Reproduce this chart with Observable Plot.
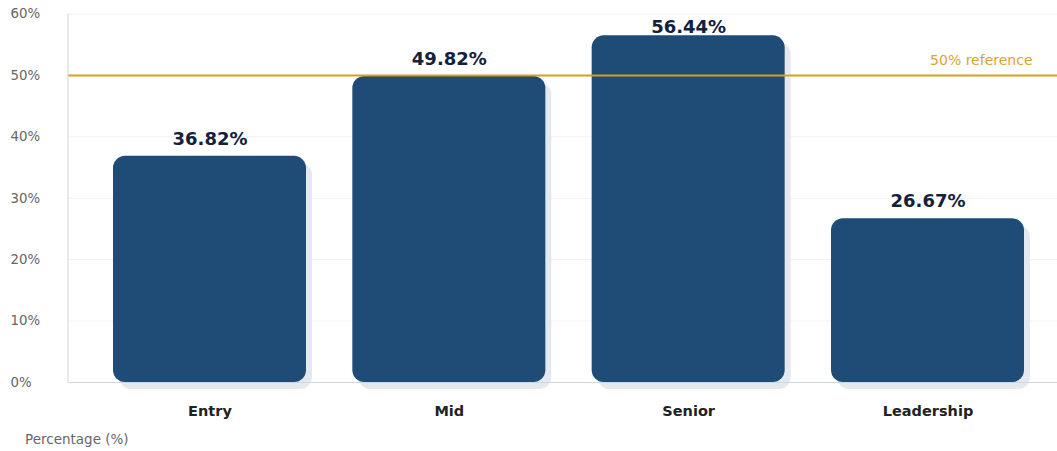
<!DOCTYPE html>
<html>
<head>
<meta charset="utf-8">
<script src="https://cdn.jsdelivr.net/npm/d3@7"></script>
<script src="https://cdn.jsdelivr.net/npm/@observablehq/plot@0.6"></script>
<style>
  html, body { margin: 0; padding: 0; background: #fff; }
  #chart svg { display: block; }
  .caption { font-family: "DejaVu Sans", sans-serif; font-size: 13.5px; color: #666; padding-left: 25px; line-height: 28px; height: 26px; }
</style>
</head>
<body>
<div id="chart"></div>
<div class="caption">Percentage (%)</div>
<script>
const categories = ["Entry", "Mid", "Senior", "Leadership"];
const values = [36.82, 49.82, 56.44, 26.67];
const valueLabels = ["36.82%", "49.82%", "56.44%", "26.67%"];
const yTicks = [0, 10, 20, 30, 40, 50, 60];
const yTickLabels = ["0%", "10%", "20%", "30%", "40%", "50%", "60%"];
const referenceValue = 50;
const referenceLabel = "50% reference";

const data = categories.map((c, i) => ({category: c, value: values[i], label: valueLabels[i]}));
const ticks = yTicks.map((t, i) => ({value: t, label: yTickLabels[i]}));
const ref = [{value: referenceValue, label: referenceLabel}];

const W = 1057, H = 425;
const chart = Plot.plot({
  width: W,
  height: H,
  marginLeft: 68,
  marginRight: 0,
  marginTop: 13.5,
  marginBottom: 43,
  style: {fontFamily: "DejaVu Sans, sans-serif", background: "#fff"},
  x: {domain: categories, range: [68, 1069], paddingInner: 0.1936, paddingOuter: 0.188, round: false, label: null},
  y: {domain: [0, 60], label: null, axis: null},
  marks: [
    Plot.ruleY(ticks, {y: "value", stroke: "#eef1f4", strokeWidth: 1}),
    Plot.text(ticks, {y: "value", text: "label", frameAnchor: "left", textAnchor: "start", dx: -58, fontSize: 13.3, fill: "#666"}),
    Plot.barY(data, {x: "category", y: "value", fill: "#e4e9f0", rx: 12, dx: 6, dy: 7}),
    Plot.barY(data, {x: "category", y: "value", fill: "#1f4b77", rx: 12}),
    Plot.ruleY([0], {stroke: "#cfd6de", strokeWidth: 1}),
    Plot.ruleY(ref, {y: "value", stroke: "#d4a020", strokeWidth: 2}),
    Plot.text(ref, {y: "value", text: "label", frameAnchor: "right", textAnchor: "end", dx: -25, dy: -15, fontSize: 14, fill: "#d4a636"}),
    Plot.text(data, {x: "category", y: d => Math.min(d.value, 55.1), text: "label", dy: -17, fontSize: 18, fontWeight: "bold", fill: "#13213d"}),
    Plot.axisX({tickSize: 0, tickPadding: 23, fontSize: 14.5, fontWeight: "bold", fill: "#222", label: null})
  ]
});
document.getElementById("chart").appendChild(chart);
const ys = chart.scale("y");
d3.select(chart).append("line")
  .attr("x1", 68).attr("x2", 68)
  .attr("y1", ys.apply(60)).attr("y2", ys.apply(0))
  .attr("stroke", "#cfd6de").attr("stroke-width", 1);
</script>
</body>
</html>
